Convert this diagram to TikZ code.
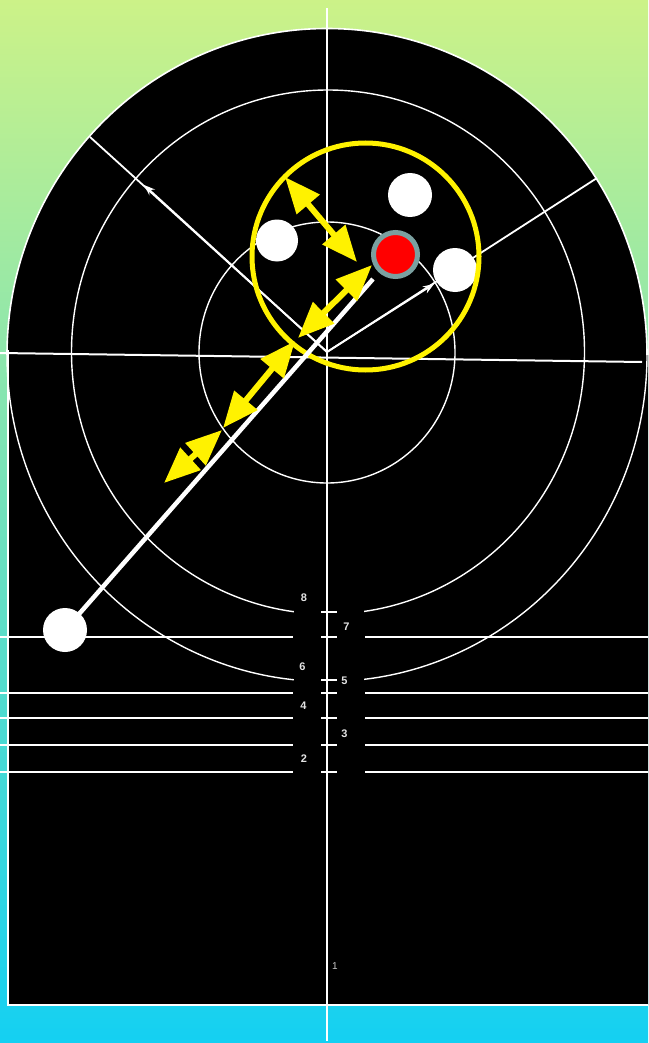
\documentclass[tikz,border=0pt]{standalone}
\usepackage{fontspec}
\setmainfont{Liberation Sans}
\usetikzlibrary{arrows.meta}
\definecolor{bgtop}{RGB}{204,242,136}
\definecolor{bgbot}{RGB}{20,208,242}
\definecolor{ringgray}{RGB}{122,160,160}
\definecolor{labelgray}{RGB}{228,228,228}
\definecolor{smallgray}{RGB}{200,200,200}
\begin{document}
\begin{tikzpicture}[x=1pt,y=-1pt,
  ringline/.style={draw=white, line width=1.4pt},
  levelline/.style={draw=white, line width=2pt},
  axisline/.style={draw=white, line width=2pt},
  radius line/.style={draw=white, line width=1.8pt},
  radius arrow/.style={draw=white, line width=1.8pt, -{Stealth[length=11pt,width=8pt]}},
  yarrow/.style={draw=yellow, line width=6pt, {Triangle[length=36pt,width=29pt]}-{Triangle[length=36pt,width=29pt]}},
  disc/.style={fill=white},
  numlabel/.style={text=labelgray, font=\bfseries\fontsize{11}{12}\selectfont, inner sep=0pt},
  smalllabel/.style={text=smallgray, font=\fontsize{10}{11}\selectfont, inner sep=0pt},
]
% background
\shade[top color=bgtop, bottom color=bgbot] (0,0) rectangle (648,1043);
\useasboundingbox (0,0) rectangle (648,1043);

% black target body
\fill[black] (7,355) arc[start angle=180, end angle=0, x radius=320pt, y radius=326.5pt]
  -- (648,355) -- (648,1005) -- (8,1005) -- cycle;
\draw[white, line width=1.6pt] (7,355) arc[start angle=180, end angle=0, x radius=320pt, y radius=326.5pt];
\draw[white, line width=2pt] (8,350) -- (8,1005) -- (648,1005);

% rings
\draw[ringline] (7,355) arc[start angle=180, end angle=360, x radius=320pt, y radius=326.5pt];
\draw[ringline] (328,352) circle[x radius=256.5pt, y radius=262pt];
\draw[ringline] (327,352.5) circle[x radius=128pt, y radius=130.5pt];
% central strip clears the lower arcs
\fill[black] (294,560) rectangle (364,800);

% level lines and ticks
\foreach \yy in {637,693,718,745,772}{
  \draw[levelline] (0,\yy) -- (293,\yy);
  \draw[levelline] (365,\yy) -- (648,\yy);
}
\foreach \yy in {612,637,680,693,718,745,772}{
  \draw[levelline] (321,\yy) -- (337,\yy);
}

% axes
\coordinate (ctr) at (327,352);
\coordinate (vtop) at (327,8);
\coordinate (vbot) at (327,1041);
\coordinate (hl) at (0,353);
\coordinate (hr) at (642,362);
\draw[axisline] (vtop) -- (vbot);
\draw[axisline] (hl) -- (hr);

% radius lines with arrows
\coordinate (ulend) at (90,137);
\coordinate (ultip) at (144,185);
\coordinate (urend) at (597,178);
\coordinate (urtip) at (434,284);
\draw[radius line] (ctr) -- (ulend);
\draw[radius arrow] (ctr) -- (ultip);
\draw[radius line] (ctr) -- (urend);
\draw[radius arrow] (ctr) -- (urtip);

% white discs
\coordinate (d1) at (410,195);
\coordinate (d2) at (277,240.5);
\coordinate (d3) at (455,270);
\coordinate (d4) at (65,630);
\fill[disc] (d1) circle[radius=22pt];
\fill[disc] (d2) circle[radius=21pt];
\fill[disc] (d3) circle[radius=22pt];

% yellow circle
\draw[yellow, line width=5pt] (365.5,256.5) circle[radius=113.5pt];

% thick white line
\coordinate (lend) at (373,279);
\draw[white, line width=4.5pt] (d4) -- (lend);
\fill[disc] (d4) circle[radius=22pt];

% red disc
\draw[ringgray, line width=5pt, fill=red] (395.5,254.5) circle[radius=22pt];

% yellow double arrows
\coordinate (a1s) at (285,177);
\coordinate (a1e) at (357,262);
\coordinate (a2s) at (372,265);
\coordinate (a2e) at (298,338);
\coordinate (a3s) at (295,341);
\coordinate (a3e) at (223,428);
\coordinate (a4s) at (222,430);
\coordinate (a4e) at (164,483);
\draw[yarrow] (a1s) -- (a1e);
\draw[yarrow] (a2s) -- (a2e);
\draw[yarrow] (a3s) -- (a3e);
\draw[yarrow] (a4s) -- (a4e);

% labels
\node[numlabel] (n8) at (304,598) {8};
\node[numlabel] (n7) at (346.5,627) {7};
\node[numlabel] (n6) at (302.5,667) {6};
\node[numlabel] (n5) at (344.5,681) {5};
\node[numlabel] (n4) at (303.5,706) {4};
\node[numlabel] (n3) at (344.5,734) {3};
\node[numlabel] (n2) at (304,759) {2};
\node[smalllabel] (n1) at (335,966) {1};
\end{tikzpicture}
\end{document}
